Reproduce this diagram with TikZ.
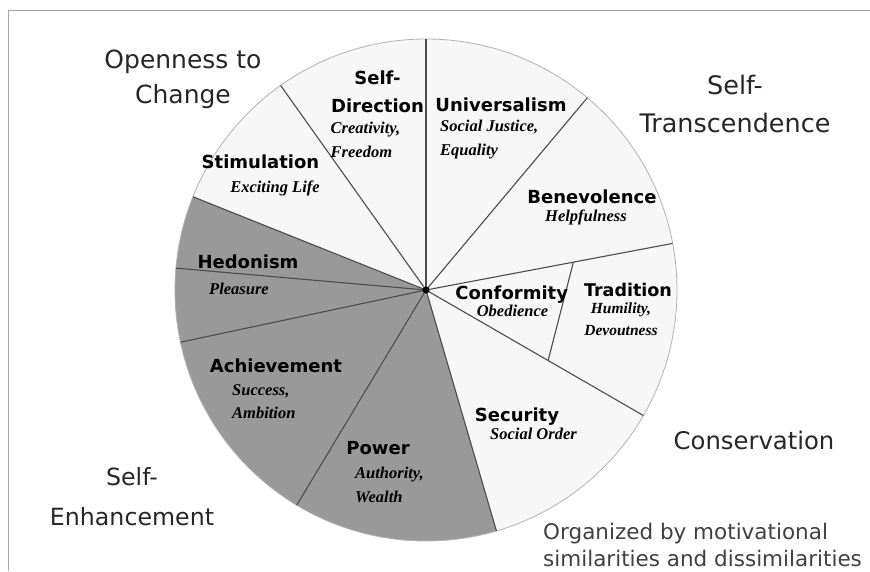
\documentclass[tikz,border=0pt]{standalone}
\usepackage{fontspec}
\setmainfont{DejaVu Sans}
\newfontfamily\notefont{Liberation Serif}
\usepackage{xcolor}
\definecolor{wedgegray}{gray}{0.6}
\definecolor{wedgewhite}{gray}{0.97}
\definecolor{spokegray}{gray}{0.3}

\tikzset{
    valname/.style={font=\fontsize{18}{27.7}\selectfont\bfseries, align=center, inner sep=0pt},
    valnote/.style={font=\notefont\fontsize{16.5}{23.4}\selectfont\bfseries\itshape, align=left, inner sep=0pt},
    grouplabel/.style={font=\fontsize{25}{36}\selectfont, text=black!85, align=center, inner sep=0pt},
    spoke/.style={spokegray, line width=1.1pt},
}

\begin{document}
\begin{tikzpicture}[x=1pt, y=1pt]
    \useasboundingbox (0,0) rectangle (870,-571);

    % Frame along the top and the left side
    \draw[gray!70, line width=0.8pt] (8,-571) -- (8,-10) -- (870,-10);

    % Circle, with the three shaded wedges
    \coordinate (hub) at (426,-290);
    \fill[wedgewhite] (hub) circle [radius=251];
    \fill[wedgegray] (hub) -- ++(158.2:251) arc [start angle=158.2, end angle=286.3, radius=251] -- cycle;
    \draw[gray!60, line width=0.8pt] (hub) circle [radius=251];

    % Spokes out from the hub
    \foreach \a in {10.7, 50, 90, 125.4, 158.2, 175, 192, 239, 286.3, 330}
        \draw[spoke] (hub) -- ++(\a:251);

    % Short line closing off conformity
    \coordinate (confa) at ([shift={(10.7:150)}]hub);
    \coordinate (confb) at ([shift={(330:141)}]hub);
    \draw[spoke] (confa) -- (confb);

    \fill[black] (hub) circle [radius=3.5]; % hub dot

    % Wedge labels
    \node[valname] (selfdir) at (377.5,-92) {Self-\\Direction};
    \node[valnote, anchor=west] (selfdirnote) at (330.5,-140) {Creativity,\\Freedom};
    \node[valname] (univ) at (501,-105) {Universalism};
    \node[valnote, anchor=west] (univnote) at (440,-139.5) {Social Justice,\\Equality};
    \node[valname] (stim) at (260.5,-161.7) {Stimulation};
    \node[valnote] (stimnote) at (275,-188.3) {Exciting Life};
    \node[valname] (benev) at (592,-196.7) {Benevolence};
    \node[valnote] (benevnote) at (586,-217.3) {Helpfulness};
    \node[valname] (hedon) at (248,-261.7) {Hedonism};
    \node[valnote] (hedonnote) at (239,-289) {Pleasure};
    \node[valname] (achieve) at (276,-366) {Achievement};
    \node[valnote, anchor=west] (achievenote) at (232,-401.7) {Success,\\Ambition};
    \node[valname] (power) at (378,-448.3) {Power};
    \node[valnote, anchor=west] (powernote) at (355,-485) {Authority,\\Wealth};
    \node[valname] (conform) at (511.7,-295) {Conformity};
    \node[valnote] (conformnote) at (512.5,-311) {Obedience};
    \node[valname, font=\fontsize{17.5}{22}\selectfont\bfseries] (trad) at (628,-290) {Tradition};
    \node[valnote, align=center, anchor=north, font=\notefont\fontsize{15.5}{21.5}\selectfont\bfseries\itshape] (tradnote) at (621,-303) {Humility,\\Devoutness};
    \node[valname] (secur) at (517,-416.7) {Security};
    \node[valnote] (securnote) at (533.5,-434) {Social Order};

    % Higher order groups
    \node[grouplabel, font=\fontsize{25}{35}\selectfont] (openness) at (183,-79) {Openness to\\Change};
    \node[grouplabel, font=\fontsize{25.5}{37.7}\selectfont] (transc) at (735,-104) {Self-\\Transcendence};
    \node[grouplabel, font=\fontsize{23.7}{40}\selectfont] (enhance) at (132,-496.7) {Self-\\Enhancement};
    \node[grouplabel, font=\fontsize{24.3}{30}\selectfont] (conserv) at (754,-440) {Conservation};

    % Note in the corner
    \node[grouplabel, font=\fontsize{21.5}{26.6}\selectfont, text=black!75, align=left, anchor=west] (caption) at (543,-545) {Organized by motivational\\similarities and dissimilarities};
\end{tikzpicture}
\end{document}
